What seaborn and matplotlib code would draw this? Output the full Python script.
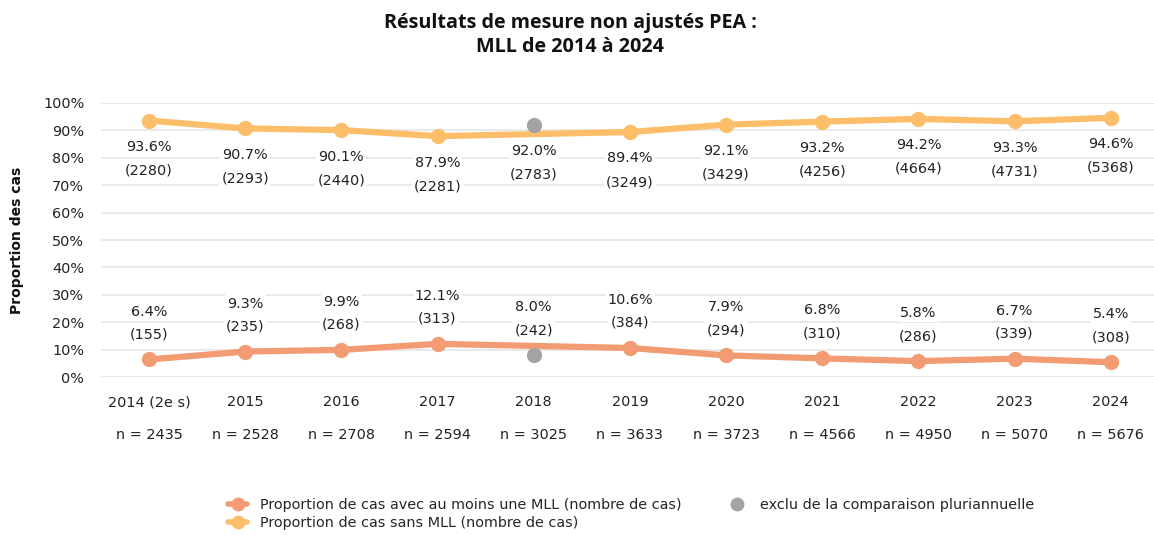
import matplotlib
matplotlib.use("Agg")
import matplotlib.pyplot as plt
import matplotlib.transforms as mtransforms
from matplotlib.lines import Line2D
import seaborn as sns
import pandas as pd


# --------------------------------------------------------------------------------------------------
# données:

years = ["2014 (2e s)", "2015", "2016", "2017", "2018", "2019",
         "2020", "2021", "2022", "2023", "2024"]
n_total = [2435, 2528, 2708, 2594, 3025, 3633, 3723, 4566, 4950, 5070, 5676]

pct_mll = [6.4, 9.3, 9.9, 12.1, 8.0, 10.6, 7.9, 6.8, 5.8, 6.7, 5.4]
cnt_mll = [155, 235, 268, 313, 242, 384, 294, 310, 286, 339, 308]

pct_sans = [93.6, 90.7, 90.1, 87.9, 92.0, 89.4, 92.1, 93.2, 94.2, 93.3, 94.6]
cnt_sans = [2280, 2293, 2440, 2281, 2783, 3249, 3429, 4256, 4664, 4731, 5368]

excluded_years = ["2018"]

C_MLL = "#F39C74"
C_SANS = "#FCBE68"
C_EXCL = "#A3A3A3"
TXT = "#222222"
FS = 10.4

sns.set_theme(style="whitegrid")
plt.rcParams["font.family"] = ["DejaVu Sans"]

df = pd.DataFrame({
    "year": years,
    "pos": range(len(years)),
    "pct_mll": pct_mll,
    "cnt_mll": cnt_mll,
    "pct_sans": pct_sans,
    "cnt_sans": cnt_sans,
    "n": n_total,
})
df["excluded"] = df["year"].isin(excluded_years)
kept = df[~df["excluded"]]
excl = df[df["excluded"]]

fig = plt.figure(figsize=(11.54, 5.35), dpi=100)
ax = fig.add_axes([0.0875, 0.2953, 0.9125, 0.5122])

# --------------------------------------------------------------------------------------------------
# lignes (2018 exclu de la comparaison)

for col, color in [("pct_sans", C_SANS), ("pct_mll", C_MLL)]:
    sns.lineplot(data=kept, x="pos", y=col, ax=ax, color=color, linewidth=4.5,
                 marker="o", markersize=11, markeredgewidth=0, zorder=3)

sns.scatterplot(data=excl.melt(id_vars="pos", value_vars=["pct_sans", "pct_mll"]),
                x="pos", y="value", ax=ax, color=C_EXCL, s=120, linewidth=0, zorder=4)

# --------------------------------------------------------------------------------------------------
# étiquettes

box = dict(boxstyle="square,pad=0.15", facecolor="white", edgecolor="none")
for _, r in df.iterrows():
    ax.annotate(f"{r.pct_sans:.1f}%", (r.pos, r.pct_sans), xytext=(0, -19),
                textcoords="offset points", ha="center", va="center",
                fontsize=FS, color=TXT, bbox=box, zorder=5)
    ax.annotate(f"({r.cnt_sans})", (r.pos, r.pct_sans), xytext=(0, -36),
                textcoords="offset points", ha="center", va="center",
                fontsize=FS, color=TXT, bbox=box, zorder=5)
    ax.annotate(f"{r.pct_mll:.1f}%", (r.pos, r.pct_mll), xytext=(0, 34.5),
                textcoords="offset points", ha="center", va="center",
                fontsize=FS, color=TXT, bbox=box, zorder=5)
    ax.annotate(f"({r.cnt_mll})", (r.pos, r.pct_mll), xytext=(0, 18),
                textcoords="offset points", ha="center", va="center",
                fontsize=FS, color=TXT, bbox=box, zorder=5)

trans = mtransforms.blended_transform_factory(ax.transData, ax.transAxes)
for _, r in df.iterrows():
    ax.text(r.pos, -0.212, f"n = {r.n}", transform=trans, ha="center", va="center",
            fontsize=FS, color=TXT)

# --------------------------------------------------------------------------------------------------
# axes

ax.set_xlim(-0.5, 10.45)
ax.set_ylim(0, 100)
ax.set_xticks(range(len(years)))
ax.set_xticklabels(years, fontsize=FS, color=TXT)
ax.set_yticks(range(0, 101, 10))
ax.set_yticklabels([f"{v}%" for v in range(0, 101, 10)], fontsize=FS, color=TXT)
ax.tick_params(axis="x", pad=13, length=0)
ax.tick_params(axis="y", pad=12, length=0)
ax.grid(axis="x", visible=False)
ax.grid(axis="y", color="#E6E6E6", linewidth=1.2)
for s in ax.spines.values():
    s.set_visible(False)
ax.set_xlabel("")
ax.set_ylabel("Proportion des cas", fontsize=10, fontweight="bold", color="#111111")
ax.yaxis.set_label_coords(-0.073, 0.5)

fig.suptitle("Résultats de mesure non ajustés PEA :\nMLL de 2014 à 2024",
             x=0.494, y=0.935, va="center", fontsize=14.2, fontweight="bold",
             family=["Open Sans", "DejaVu Sans"], color="#111111", linespacing=1.3)

handles = [
    Line2D([], [], color=C_MLL, linewidth=4, marker="o", markersize=9),
    Line2D([], [], color=C_SANS, linewidth=4, marker="o", markersize=9),
    Line2D([], [], color=C_EXCL, linewidth=0, marker="o", markersize=9),
]
labels = ["Proportion de cas avec au moins une MLL (nombre de cas)",
          "Proportion de cas sans MLL (nombre de cas)",
          "exclu de la comparaison pluriannuelle"]
fig.legend(handles, labels, loc="center", bbox_to_anchor=(0.547, 0.039), ncol=2,
           frameon=False, fontsize=FS, handlelength=1.3, handletextpad=0.9,
           columnspacing=3.2, labelspacing=0.3)

plt.savefig("out.png", dpi=100)
plt.close()
